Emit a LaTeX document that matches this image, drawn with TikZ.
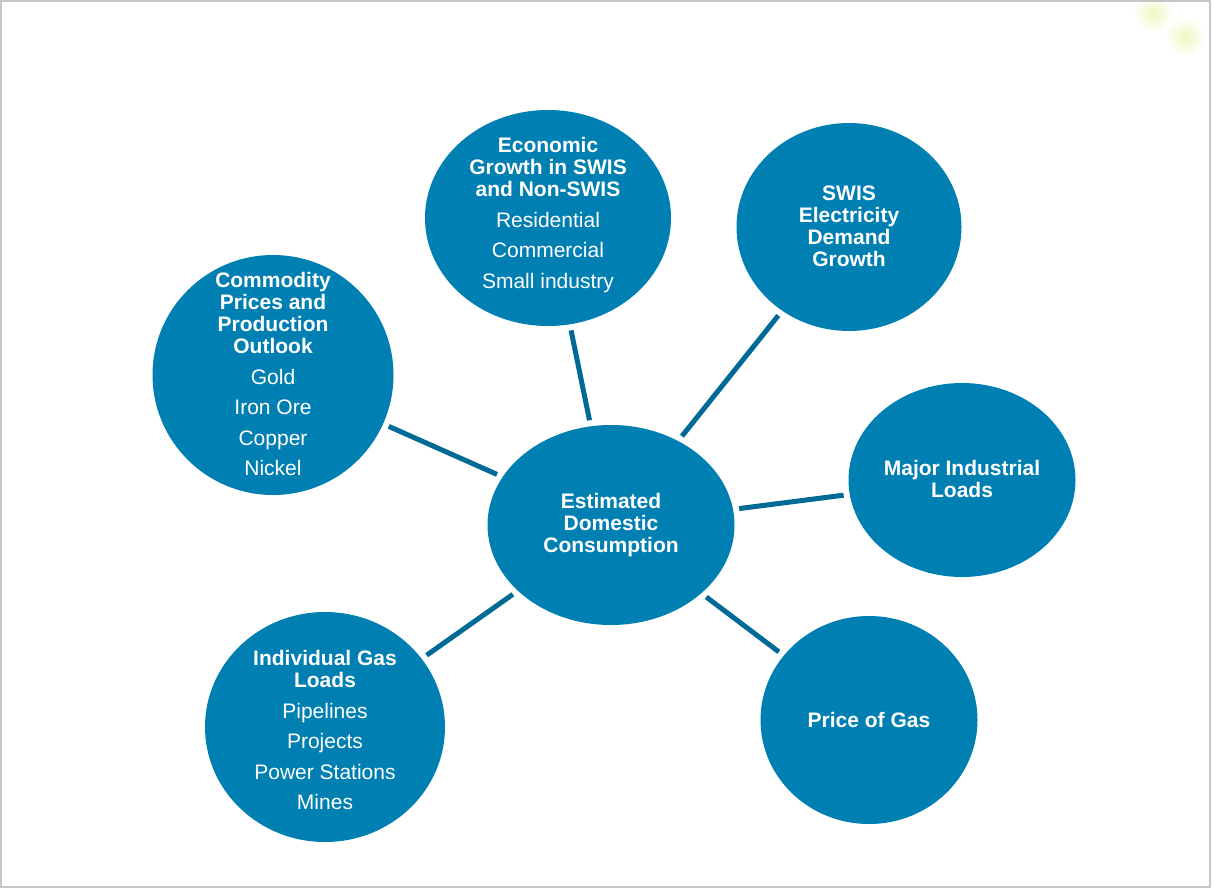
\documentclass[tikz,border=0pt]{standalone}
\usepackage{fontspec}
\setmainfont{Liberation Sans}
\usetikzlibrary{shapes.geometric}
\definecolor{blobfill}{HTML}{007FB2}
\definecolor{linkcol}{HTML}{006A97}
\definecolor{glowcol}{HTML}{F1F6C4}
\tikzset{
  blob/.style={ellipse, fill=blobfill, draw=none, inner sep=0pt},
  txt/.style={text=white, align=center, inner sep=0pt,
    font=\fontsize{21}{22}\selectfont},
  link/.style={draw=linkcol, line width=5pt, shorten <=6pt, shorten >=6pt}
}
\begin{document}
\begin{tikzpicture}[x=1pt,y=-1pt]
  % page frame
  \useasboundingbox (0,0) rectangle (1212,888);
  \draw[gray!45, line width=2pt] (1,1) rectangle (1210,887);
  % soft decorative glows in the corner
  \shade[inner color=glowcol, outer color=white] (1153,13) circle (20);
  \shade[inner color=glowcol, outer color=white] (1185,37) circle (20);
  \draw[gray!45, line width=2pt] (1,1) -- (1210,1) -- (1210,887);

  % ellipses
  \node[blob, minimum width=247pt, minimum height=200pt] (ctr) at (611,525) {};
  \node[blob, minimum width=246pt, minimum height=216pt] (eco) at (548,218) {};
  \node[blob, minimum width=225pt, minimum height=208pt] (swis) at (849,227) {};
  \node[blob, minimum width=241pt, minimum height=240pt] (com) at (273,375) {};
  \node[blob, minimum width=227pt, minimum height=194pt] (maj) at (962,480) {};
  \node[blob, minimum width=240pt, minimum height=230pt] (ind) at (325,727) {};
  \node[blob, minimum width=217pt, minimum height=208pt] (gas) at (869,720) {};

  % spokes
  \path[link] (eco) -- (ctr);
  \path[link] (swis) -- (ctr);
  \path[link] (com) -- (ctr);
  \path[link] (maj) -- (ctr);
  \path[link] (ind) -- (ctr);
  \path[link] (gas) -- (ctr);

  % labels
  \node[txt] (ctrT) at (611,525) {\bfseries Estimated\\\bfseries Domestic\\\bfseries Consumption};
  \node[txt] (ecoT) at (548,215) {\bfseries Economic\\\bfseries Growth in SWIS\\\bfseries and Non-SWIS\\[8.5pt]
    Residential\\[8.5pt] Commercial\\[8.5pt] Small industry};
  \node[txt] (swisT) at (849,226) {\bfseries SWIS\\\bfseries Electricity\\\bfseries Demand\\\bfseries Growth};
  \node[txt] (comT) at (273,374) {\bfseries Commodity\\\bfseries Prices and\\\bfseries Production\\\bfseries Outlook\\[8.5pt]
    Gold\\[8.5pt] Iron Ore\\[8.5pt] Copper\\[8.5pt] Nickel};
  \node[txt] (majT) at (962,479) {\bfseries Major Industrial\\\bfseries Loads};
  \node[txt] (indT) at (325,730) {\bfseries Individual Gas\\\bfseries Loads\\[8.5pt]
    Pipelines\\[8.5pt] Projects\\[8.5pt] Power Stations\\[8.5pt] Mines};
  \node[txt] (gasT) at (869,720) {\bfseries Price of Gas};
\end{tikzpicture}
\end{document}
